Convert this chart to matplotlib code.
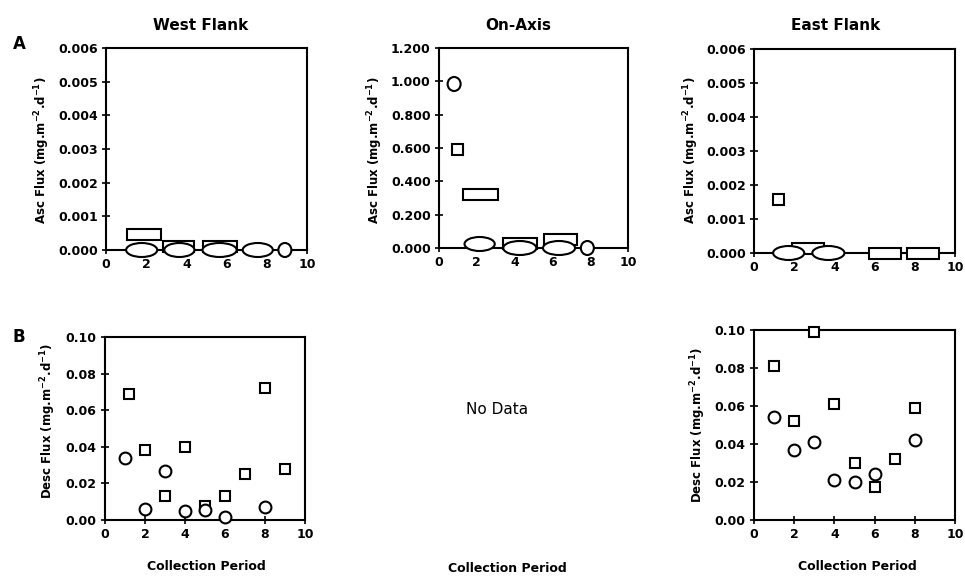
import matplotlib
matplotlib.use("Agg")
import matplotlib.pyplot as plt
from matplotlib.patches import Ellipse, Rectangle
from matplotlib.ticker import FormatStrFormatter, MultipleLocator

# ascending flux (row A): marks are spread over a span of collection periods
west_asc_circ_lo = [1.0, 2.9, 4.8, 6.8, 8.9]
west_asc_circ_hi = [2.55, 4.4, 6.5, 8.3, 8.9]
west_asc_circ_y = [0.0, 0.0, 0.0, 0.0, 0.0]
west_asc_sq_lo = [1.05, 2.85, 4.85]
west_asc_sq_hi = [2.75, 4.4, 6.5]
west_asc_sq_y = [0.00045, 0.0001, 0.0001]

axis_asc_circ_lo = [0.8, 1.35, 3.4, 5.5, 7.85]
axis_asc_circ_hi = [0.8, 2.95, 5.15, 7.2, 7.85]
axis_asc_circ_y = [0.984, 0.024, 0.0, 0.0, 0.0]
axis_asc_sq_lo = [0.99, 1.27, 3.4, 5.55]
axis_asc_sq_hi = [0.99, 3.12, 5.2, 7.3]
axis_asc_sq_y = [0.59, 0.324, 0.027, 0.054]

east_asc_circ_lo = [0.95, 2.9]
east_asc_circ_hi = [2.5, 4.5]
east_asc_circ_y = [0.0, 0.0]
east_asc_sq_lo = [1.22, 1.9, 5.7, 7.6]
east_asc_sq_hi = [1.22, 3.5, 7.3, 9.2]
east_asc_sq_y = [0.00156, 0.00012, 0.0, 0.0]

# descending flux (row B)
west_desc_circ_x = [1, 2, 3, 4, 5, 6, 8]
west_desc_circ_y = [0.034, 0.006, 0.027, 0.005, 0.0053, 0.0015, 0.007]
west_desc_sq_x = [1.2, 2, 3, 4, 5, 6, 7, 8, 9]
west_desc_sq_y = [0.069, 0.038, 0.013, 0.040, 0.0075, 0.013, 0.025, 0.072, 0.028]

east_desc_circ_x = [1, 2, 3, 4, 5, 6, 8]
east_desc_circ_y = [0.054, 0.037, 0.041, 0.021, 0.020, 0.024, 0.042]
east_desc_sq_x = [1, 2, 3, 4, 5, 6, 7, 8]
east_desc_sq_y = [0.081, 0.052, 0.099, 0.061, 0.030, 0.0175, 0.032, 0.059]

titles = ["West Flank", "On-Axis", "East Flank"]
asc_label = r"Asc Flux (mg.m$^{\mathbf{-2}}$.d$^{\mathbf{-1}}$)"
desc_label = r"Desc Flux (mg.m$^{\mathbf{-2}}$.d$^{\mathbf{-1}}$)"

plt.rcParams['font.family'] = ['DejaVu Sans']
W, H = 965, 576
fig = plt.figure(figsize=(W / 100, H / 100), dpi=100)


def add_axes(x0, x1, y0, y1):
    # pixel box -> figure fraction
    return fig.add_axes([x0 / W, 1 - y1 / H, (x1 - x0) / W, (y1 - y0) / H])


def style(ax, ymax, ystep, fmt):
    ax.set_xlim(0, 10)
    ax.set_ylim(0, ymax)
    ax.xaxis.set_major_locator(MultipleLocator(2))
    ax.yaxis.set_major_locator(MultipleLocator(ystep))
    ax.yaxis.set_major_formatter(FormatStrFormatter(fmt))
    for s in ax.spines.values():
        s.set_linewidth(1.5)
    ax.tick_params(direction='inout', length=6, width=1.2, labelsize=9, pad=3)
    for lab in ax.get_xticklabels() + ax.get_yticklabels():
        lab.set_fontweight('bold')


def px_to_data(ax, wpx, hpx):
    pos = ax.get_position()
    x0, x1 = ax.get_xlim()
    y0, y1 = ax.get_ylim()
    return wpx * (x1 - x0) / (pos.width * W), hpx * (y1 - y0) / (pos.height * H)


def span_marks(ax, lo, hi, y, shape):
    if shape == 'o':
        mw, h = px_to_data(ax, 13, 14)
    else:
        mw, h = px_to_data(ax, 11, 11)
    for a, b, v in zip(lo, hi, y):
        w = max(b - a, mw)
        xc = (a + b) / 2
        if shape == 'o':
            p = Ellipse((xc, v), w, h, facecolor='white', edgecolor='black', lw=1.5, zorder=4)
        else:
            p = Rectangle((xc - w / 2, v - h / 2), w, h, facecolor='white', edgecolor='black', lw=1.5, zorder=3)
        p.set_clip_on(False)
        ax.add_patch(p)


# row A
ax1 = add_axes(106, 307, 48, 250)
style(ax1, 0.006, 0.001, '%.3f')
span_marks(ax1, west_asc_sq_lo, west_asc_sq_hi, west_asc_sq_y, 's')
span_marks(ax1, west_asc_circ_lo, west_asc_circ_hi, west_asc_circ_y, 'o')

ax2 = add_axes(439, 628, 48, 248)
style(ax2, 1.2, 0.2, '%.3f')
span_marks(ax2, axis_asc_sq_lo, axis_asc_sq_hi, axis_asc_sq_y, 's')
span_marks(ax2, axis_asc_circ_lo, axis_asc_circ_hi, axis_asc_circ_y, 'o')

ax3 = add_axes(754, 955, 49, 253)
style(ax3, 0.006, 0.001, '%.3f')
span_marks(ax3, east_asc_sq_lo, east_asc_sq_hi, east_asc_sq_y, 's')
span_marks(ax3, east_asc_circ_lo, east_asc_circ_hi, east_asc_circ_y, 'o')

# row B
mk = dict(linestyle='none', markerfacecolor='white', markeredgecolor='black',
          markeredgewidth=1.5, clip_on=False)
ax4 = add_axes(105, 305, 337, 520)
style(ax4, 0.10, 0.02, '%.2f')
ax4.plot(west_desc_sq_x, west_desc_sq_y, marker='s', markersize=7.5, zorder=3, **mk)
ax4.plot(west_desc_circ_x, west_desc_circ_y, marker='o', markersize=8.5, zorder=4, **mk)

ax5 = add_axes(754, 955, 330, 520)
style(ax5, 0.10, 0.02, '%.2f')
ax5.plot(east_desc_sq_x, east_desc_sq_y, marker='s', markersize=7.5, zorder=3, **mk)
ax5.plot(east_desc_circ_x, east_desc_circ_y, marker='o', markersize=8.5, zorder=4, **mk)


def ftext(x, y, s, **kw):
    fig.text(x / W, 1 - y / H, s, ha='center', va='center', **kw)


for (x, t) in zip([201, 518, 836], titles):
    ftext(x, 25, t, fontsize=11, fontweight='bold')
ftext(19, 44, "A", fontsize=12, fontweight='bold')
ftext(19, 337, "B", fontsize=12, fontweight='bold')

ftext(42, 150, asc_label, fontsize=8.5, fontweight='bold', rotation=90)
ftext(375, 150, asc_label, fontsize=8.5, fontweight='bold', rotation=90)
ftext(691, 150, asc_label, fontsize=8.5, fontweight='bold', rotation=90)
ftext(48, 421, desc_label, fontsize=8.5, fontweight='bold', rotation=90)
ftext(698, 425, desc_label, fontsize=8.5, fontweight='bold', rotation=90)

ftext(206, 566, "Collection Period", fontsize=9, fontweight='bold')
ftext(507, 568, "Collection Period", fontsize=9, fontweight='bold')
ftext(857, 566, "Collection Period", fontsize=9, fontweight='bold')
ftext(497, 410, "No Data", fontsize=11)

fig.savefig("out.png", dpi=100)
